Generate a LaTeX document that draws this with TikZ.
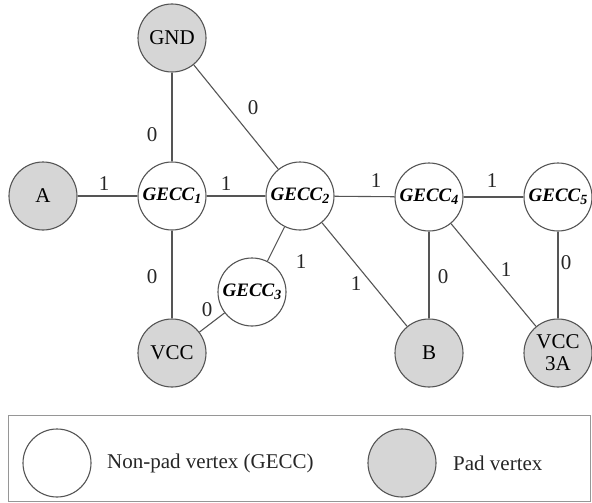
\documentclass[tikz,border=0pt]{standalone}
\usepackage{fontspec}
\setmainfont{Liberation Serif}
\definecolor{padgray}{RGB}{214,214,214}
\definecolor{edgegray}{RGB}{85,85,85}
\definecolor{boxgray}{RGB}{150,150,150}
\newcommand{\gecc}[1]{\textbf{\textit{GECC\raisebox{-0.35ex}{\fontsize{14}{14}\selectfont #1}}}}
\tikzset{
  vert/.style={circle, draw=edgegray, line width=1.1pt, minimum size=68pt, inner sep=0pt, fill=white, font=\fontsize{21}{24}\selectfont},
  gvert/.style={vert, font=\fontsize{19}{22}\selectfont},
  pad/.style={vert, fill=padgray},
  edge/.style={draw=edgegray, line width=1.1pt},
  lbl/.style={inner sep=0pt, font=\fontsize{21}{24}\selectfont, text=black!85},
  legtext/.style={anchor=west, inner sep=0pt, font=\fontsize{21}{24}\selectfont, text=black!85}
}
\begin{document}
\begin{tikzpicture}[x=1pt,y=-1pt]
\useasboundingbox (0,0) rectangle (592,503);
% vertices
\node[pad]   (GND) at (172,38)  {GND};
\node[pad]   (A)   at (43,196)  {A};
\node[gvert] (G1)  at (172,196) {\gecc{1}};
\node[gvert] (G2)  at (300,196) {\gecc{2}};
\node[gvert] (G4)  at (429,197) {\gecc{4}};
\node[gvert] (G5)  at (558,197) {\gecc{5}};
\node[gvert] (G3)  at (252,292) {\gecc{3}};
\node[pad]   (VCC) at (172,353) {VCC};
\node[pad]   (B)   at (429,353) {B};
\node[pad, align=center] (V3A) at (558,353) {VCC\\[-2pt]3A};
% edges
\draw[edge] (GND) -- (G1);
\draw[edge] (GND) -- (G2);
\draw[edge] (A) -- (G1);
\draw[edge] (G1) -- (G2);
\draw[edge] (G2) -- (G4);
\draw[edge] (G4) -- (G5);
\draw[edge] (G1) -- (VCC);
\draw[edge] (G3) -- (VCC);
\draw[edge] (G2) -- (G3);
\draw[edge] (G2) -- (B);
\draw[edge] (G4) -- (B);
\draw[edge] (G4) -- (V3A);
\draw[edge] (G5) -- (V3A);
% edge labels
\node[lbl] (l1)  at (152,135) {0};
\node[lbl] (l2)  at (253,108) {0};
\node[lbl] (l3)  at (104,184) {1};
\node[lbl] (l4)  at (226,184) {1};
\node[lbl] (l5)  at (376,181) {1};
\node[lbl] (l6)  at (492,181) {1};
\node[lbl] (l7)  at (152,277) {0};
\node[lbl] (l8)  at (207,310) {0};
\node[lbl] (l9)  at (301,262) {1};
\node[lbl] (l10) at (356,284) {1};
\node[lbl] (l11) at (443,277) {0};
\node[lbl] (l12) at (506,270) {1};
\node[lbl] (l13) at (566,263) {0};
% legend
\node[draw=boxgray, line width=1pt, minimum width=582pt, minimum height=86pt, inner sep=0pt, anchor=north west] (legend) at (8,415) {};
\node[vert] (lw) at (57,463) {};
\node[legtext] (lwt) at (107,463) {Non-pad vertex (GECC)};
\node[pad] (lp) at (402,463) {};
\node[legtext] (lpt) at (453,463) {Pad vertex};
\end{tikzpicture}
\end{document}
